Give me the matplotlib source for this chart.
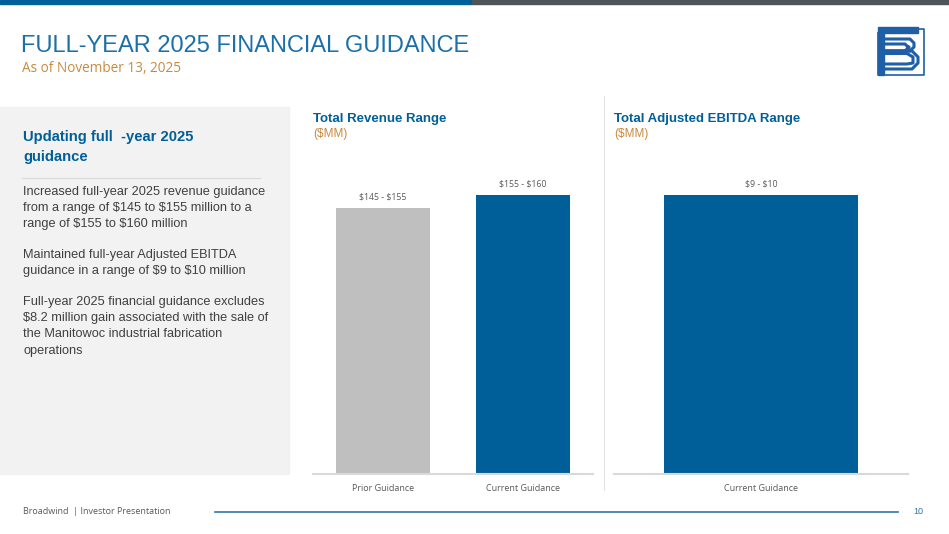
import matplotlib.pyplot as plt
from matplotlib.patches import Rectangle

# data (bar height = midpoint of the guidance range)
rev_labels = ["Prior Guidance", "Current Guidance"]
rev_values = [150.0, 157.5]
rev_text = ["$145 - $155", "$155 - $160"]

ebitda_labels = ["Current Guidance"]
ebitda_values = [9.5]
ebitda_text = ["$9 - $10"]

bullets = [
    ["Increased full-year 2025 revenue guidance",
     "from a range of $145 to $155 million to a",
     "range of $155 to $160 million"],
    ["Maintained full-year Adjusted EBITDA",
     "guidance in a range of $9 to $10 million"],
    ["Full-year 2025 financial guidance excludes",
     "$8.2 million gain associated with the sale of",
     "the Manitowoc industrial fabrication",
     "operations"],
]

W, H = 949, 534
BLUE = "#005F98"
TITLE_BLUE = "#1B70AA"
ORANGE = "#C98A3E"
GRAY_BAR = "#BFBFBF"
TXT = "#404040"
LOGO = "#1F5FA8"

plt.rcParams['font.family'] = ['Liberation Sans', 'DejaVu Sans']
plt.rcParams['text.parse_math'] = False


def fx(x):
    return x / W


def fy(y):
    return 1 - y / H


fig = plt.figure(figsize=(W / 100, H / 100), dpi=100)
fig.patch.set_facecolor("white")

# top stripe
fig.patches.append(Rectangle((0, fy(4)), fx(472), 4 / H, transform=fig.transFigure,
                             color=BLUE, zorder=0))
fig.patches.append(Rectangle((fx(472), fy(4)), 1 - fx(472), 4 / H, transform=fig.transFigure,
                             color="#4D5558", zorder=0))

# title block
fig.text(fx(21), fy(46), "FULL-YEAR 2025 FINANCIAL GUIDANCE", fontsize=17,
         color=TITLE_BLUE, va="center", ha="left")
fig.text(fx(22), fy(69), "As of November 13, 2025", fontsize=9.8, color=ORANGE,
         va="center", ha="left", family=["Open Sans", "DejaVu Sans"])

# logo (rough)
lg = fig.add_axes([fx(876), fy(77), 52 / W, 52 / H])
lg.set_xlim(0, 52)
lg.set_ylim(0, 52)
lg.axis("off")
lg.plot([2, 2, 48, 48, 42], [44, 2, 2, 48, 48], color=LOGO, lw=1.2)
lg.add_patch(Rectangle((2, 44), 40, 6, color=LOGO))
lg.add_patch(Rectangle((2, 2), 6, 44, color=LOGO))
for off in [0, 5]:
    lg.plot([8, 34 - off, 38 - off, 38 - off, 34 - off, 8],
            [38 - off, 38 - off, 34 - off, 30, 26, 26], color=LOGO, lw=2.2)
    lg.plot([8, 36 - off, 42 - off, 42 - off, 36 - off, 8],
            [26 - off / 2, 26 - off / 2, 20, 14, 8 + off, 8 + off], color=LOGO, lw=2.2)

# left panel
fig.patches.append(Rectangle((0, fy(474)), fx(289), (474 - 107) / H,
                             transform=fig.transFigure, color="#F2F2F2", zorder=0))
fig.text(fx(23), fy(137), "Updating full  -year 2025", fontsize=10.6, color=BLUE,
         va="center", ha="left", weight="bold")
fig.text(fx(23), fy(157), "guidance", fontsize=10.6, color=BLUE,
         va="center", ha="left", weight="bold")
fig.add_artist(plt.Line2D([fx(22), fx(260)], [fy(178), fy(178)], color="#D9D9D9", lw=0.8))

y0 = 192
for b in bullets:
    for line in b:
        fig.text(fx(23), fy(y0), line, fontsize=9.2, color=TXT, va="center", ha="left")
        y0 += 16.2
    y0 += 14.5

# divider between charts
fig.add_artist(plt.Line2D([fx(604), fx(604)], [fy(96), fy(490)], color="#E3E3E3", lw=0.8))


def bar_panel(left, right, labels, values, texts, ytop, width, title):
    ax = fig.add_axes([fx(left), fy(474), (right - left) / W, (474 - 150) / H])
    xs = list(range(len(values)))
    colors = [GRAY_BAR, BLUE] if len(values) == 2 else [BLUE]
    ax.bar(xs, values, width=width, color=colors, zorder=2)
    ax.set_xlim(-0.5, len(values) - 0.5)
    ax.set_ylim(0, ytop)
    for s in ["top", "left", "right"]:
        ax.spines[s].set_visible(False)
    ax.spines["bottom"].set_color("#D9D9D9")
    ax.spines["bottom"].set_linewidth(1.5)
    ax.set_yticks([])
    ax.set_xticks(xs)
    ax.set_xticklabels(labels, fontsize=6.5, color="#595959",
                       family=["Open Sans", "DejaVu Sans"])
    ax.tick_params(axis="x", length=0, pad=7)
    ax.patch.set_alpha(0)
    for x, v, t in zip(xs, values, texts):
        ax.annotate(t, (x, v), xytext=(0, 8), textcoords="offset points", ha="center",
                    va="center", fontsize=6.3, color="#595959",
                    family=["Open Sans", "DejaVu Sans"])
    fig.text(fx(left), fy(119), title, fontsize=9.5, color=BLUE, va="center",
             ha="left", weight="bold")
    fig.text(fx(left), fy(134), "($MM)", fontsize=8.5, color=ORANGE, va="center", ha="left")
    return ax


bar_panel(313, 593, rev_labels, rev_values, rev_text, 182.9, 0.67, "Total Revenue Range")
bar_panel(614, 908, ebitda_labels, ebitda_values, ebitda_text, 11.03, 0.663,
          "Total Adjusted EBITDA Range")

# footer
fig.text(fx(23), fy(511), "Broadwind  | Investor Presentation", fontsize=6.5,
         color="#595959", va="center", ha="left", family=["Open Sans", "DejaVu Sans"])
fig.add_artist(plt.Line2D([fx(215), fx(898)], [fy(512), fy(512)], color="#2E75A8", lw=1.2))
fig.text(fx(918), fy(511), "10", fontsize=6.5, color="#2E75A8", va="center", ha="center")

fig.savefig("out.png", dpi=100)
